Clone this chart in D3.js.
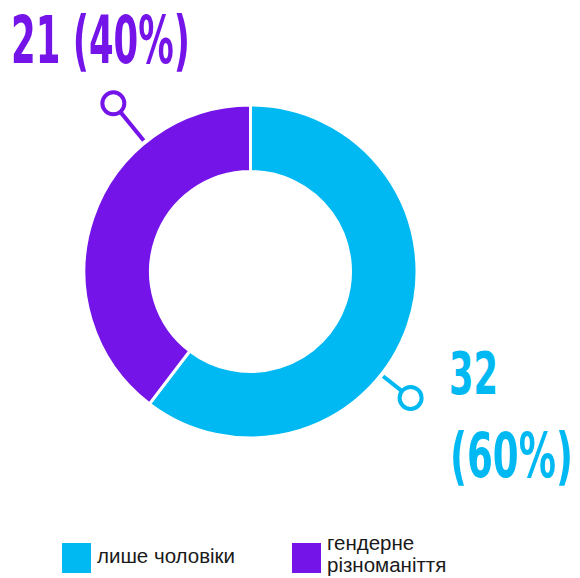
<!DOCTYPE html>
<html><head><meta charset="utf-8">
<script src="https://cdn.jsdelivr.net/npm/d3@7"></script>
<style>body{margin:0;background:#fff}svg{display:block}</style>
</head><body>
<script>
const categories = ["лише чоловіки", "гендерне різноманіття"];
const values = [32, 21];
const percents = ["60%", "40%"];
const colors = ["#00b9f2", "#7414e8"];
const legendLines = [["лише чоловіки"], ["гендерне", "різноманіття"]];

const W = 580, H = 578;
const svg = d3.select("body").append("svg").attr("width", W).attr("height", H);
const cx = 250.5, cy = 271.5, R = 166.5, r = 100;
const g = svg.append("g").attr("transform", `translate(${cx},${cy})`);
const pie = d3.pie().sort(null).value(d => d)(values);
const arc = d3.arc().innerRadius(r).outerRadius(R);
g.selectAll("path").data(pie).enter().append("path")
  .attr("d", arc).attr("fill", (d, i) => colors[i])
  .attr("stroke", "#fff").attr("stroke-width", 3);

const leaders = [{ang: 128.3, r0: 169, r1: 193, rc: 204}, {ang: -39.2, r0: 169, r1: 205, rc: 217}];
leaders.forEach((L, i) => {
  const a = L.ang * Math.PI / 180;
  const p = rr => [Math.sin(a) * rr, -Math.cos(a) * rr];
  const [x0, y0] = p(L.r0), [x1, y1] = p(L.r1), [xc, yc] = p(L.rc);
  g.append("line").attr("x1", x0).attr("y1", y0).attr("x2", x1).attr("y2", y1)
    .attr("stroke", colors[i]).attr("stroke-width", 4);
  g.append("circle").attr("cx", xc).attr("cy", yc).attr("r", 11)
    .attr("fill", "#fff").attr("stroke", colors[i]).attr("stroke-width", 4);
});

const bigFont = "'DejaVu Sans Condensed', 'DejaVu Sans', sans-serif";
function bigText(x, y, str, len, col, size) {
  const t = svg.append("text").attr("x", 0).attr("y", 0).text(str)
    .attr("font-family", bigFont).attr("font-weight", "bold")
    .attr("font-size", size).attr("fill", col);
  const nat = t.node().getComputedTextLength();
  t.attr("transform", `translate(${x},${y}) scale(${len / nat},1)`);
}
bigText(11, 63, `${values[1]} (${percents[1]})`, 179, colors[1], 66);
bigText(449, 394, `${values[0]}`, 49, colors[0], 58);
bigText(450, 477, `(${percents[0]})`, 123, colors[0], 62);

const legX = [62, 292];
const leg = svg.append("g");
categories.forEach((c, i) => {
  leg.append("rect").attr("x", legX[i]).attr("y", 543).attr("width", 29).attr("height", 30)
    .attr("fill", colors[i]);
  const lines = legendLines[i];
  const t = leg.append("text").attr("font-family", "'Liberation Sans', Arial, sans-serif")
    .attr("font-size", 20.5).attr("fill", "#1a1a1a");
  const baseY = lines.length === 1 ? 563 : 550;
  lines.forEach((ln, j) => {
    t.append("tspan").attr("x", legX[i] + 35).attr("y", baseY + j * 22).text(ln);
  });
});
</script>
</body></html>
